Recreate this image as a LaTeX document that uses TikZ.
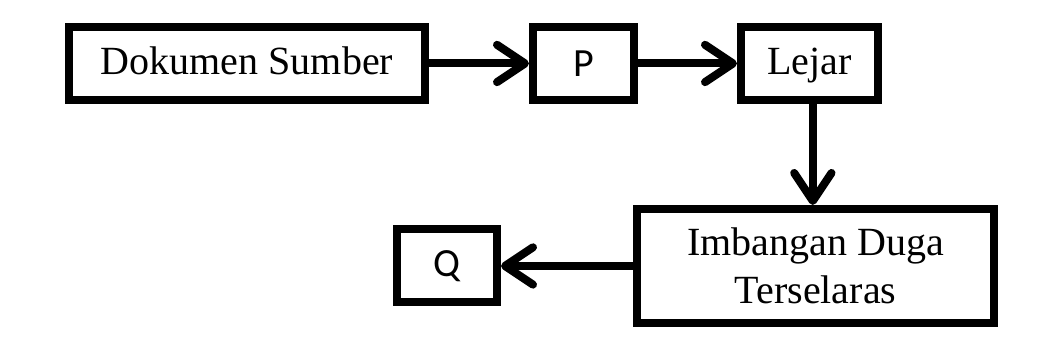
\documentclass[tikz,border=0pt]{standalone}
\usepackage{fontspec}
\setmainfont{Liberation Serif}
\newfontfamily\calfont{Carlito}
\usetikzlibrary{positioning,arrows.meta,calc}

\begin{document}
\begin{tikzpicture}[font=\fontsize{30}{36}\selectfont,
  box/.style={draw, line width=6pt, minimum height=54.75pt, inner sep=2pt},
  line1/.style={box, text height=20.5pt, text depth=4.5pt},
  sm/.style={box, font=\calfont\fontsize{30}{36}\selectfont},
  flow/.style={line width=6pt, -{Straight Barb[length=21pt, width=28pt, round]}}]
  \useasboundingbox (0,0) rectangle (790.5pt,-254.25pt);
  % top row
  \node[line1, minimum width=267pt] (src) at (185.25pt,-47.6pt) {Dokumen Sumber};
  \node[sm, right=75pt of src, minimum width=75.75pt] (p) {P};
  \node[line1, right=74.25pt of p, minimum width=102.75pt] (lejar) {Lejar};
  % bottom row
  \node[box, align=center, below=75.75pt of lejar, xshift=4.5pt, minimum width=267.75pt, minimum height=85.5pt] (imb) {Imbangan Duga\\Terselaras};
  \node[sm, left=99pt of imb, minimum width=75pt] (q) {Q};
  % flows
  \draw[flow] (src) -- (p);
  \draw[flow] (p) -- (lejar);
  \draw[flow] ($(lejar.south)+(2.5pt,0)$) -- ($(lejar.south |- imb.north)+(2.5pt,0)$);
  \draw[flow] (imb) -- (q);
\end{tikzpicture}
\end{document}
